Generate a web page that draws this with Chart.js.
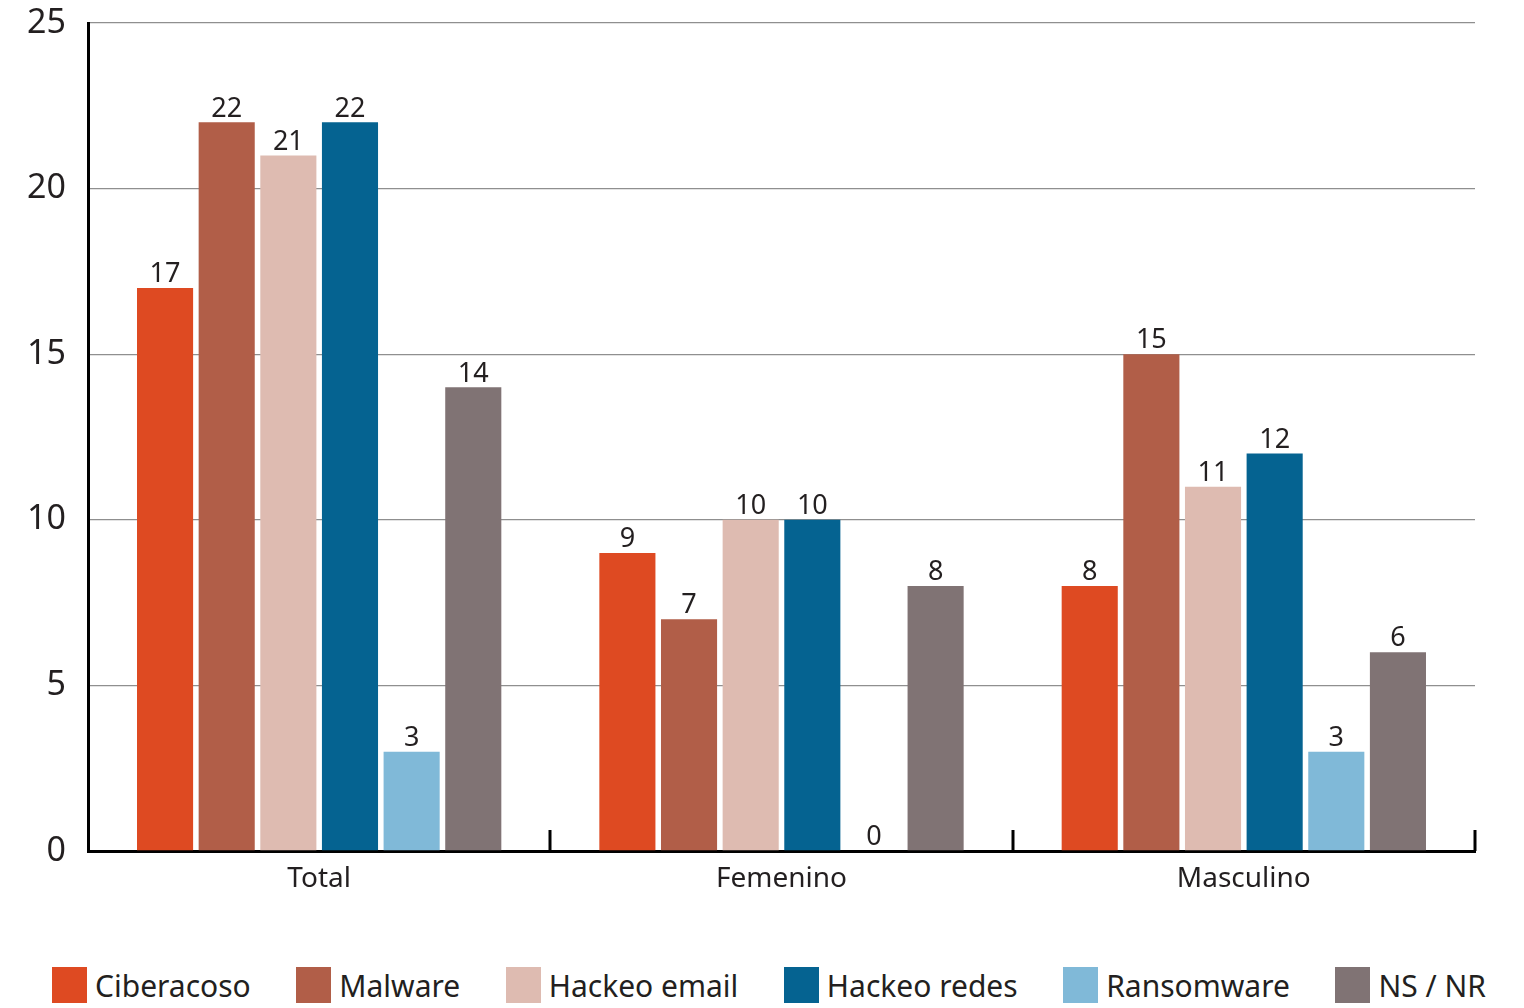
<!DOCTYPE html>
<html lang="es">
<head>
<meta charset="utf-8">
<title>Incidentes por sexo</title>
<script src="https://cdn.jsdelivr.net/npm/chart.js@4.4.1/dist/chart.umd.min.js"></script>
<style>
  html, body { margin: 0; padding: 0; background: #fff; }
  #wrap { position: relative; width: 1524px; height: 1008px; }
  #chart-box { position: absolute; left: 0; top: 0; width: 1524px; height: 940px; }
  #legend {
    position: absolute; left: 52px; right: 38px; top: 967px; height: 36px;
    display: flex; justify-content: space-between; align-items: center;
    font-family: "Noto Sans", sans-serif; font-size: 30px; color: #231f20;
  }
  #legend .item { display: flex; align-items: center; }
  #legend .swatch { width: 35px; height: 36px; margin-right: 8px; }
</style>
</head>
<body>
<div id="wrap">
  <div id="chart-box"><canvas id="incidentChart"></canvas></div>
  <div id="legend"></div>
</div>
<script>
// Categories and series
const groups = ['Total', 'Femenino', 'Masculino'];
const ciberacoso = [17, 9, 8];
const malware = [22, 7, 15];
const hackeoEmail = [21, 10, 11];
const hackeoRedes = [22, 10, 12];
const ransomware = [3, 0, 3];
const nsNr = [14, 8, 6];
const yTicks = [0, 5, 10, 15, 20, 25];

const seriesNames = ['Ciberacoso', 'Malware', 'Hackeo email', 'Hackeo redes', 'Ransomware', 'NS / NR'];
const seriesValues = [ciberacoso, malware, hackeoEmail, hackeoRedes, ransomware, nsNr];
const seriesColors = ['#de4a22', '#b15e48', '#debbb1', '#056391', '#80b9d8', '#807374'];

const FONT = '"Noto Sans", sans-serif';
const TEXT = '#231f20';

// Numbers printed above each bar
const valueLabels = {
    id: 'valueLabels',
    afterDatasetsDraw(chart) {
        const ctx = chart.ctx;
        ctx.save();
        ctx.font = '27px ' + FONT;
        ctx.fillStyle = TEXT;
        ctx.textAlign = 'center';
        ctx.textBaseline = 'bottom';
        chart.data.datasets.forEach((ds, i) => {
            chart.getDatasetMeta(i).data.forEach((bar, j) => {
                ctx.fillText(String(ds.data[j]), bar.x, bar.y);
            });
        });
        ctx.restore();
    }
};

// Short upward ticks between the groups on the base line
const groupTicks = {
    id: 'groupTicks',
    afterDraw(chart) {
        const x = chart.scales.x;
        const ctx = chart.ctx;
        ctx.save();
        ctx.strokeStyle = '#000';
        ctx.lineWidth = 3;
        for (let i = 0; i < groups.length; i++) {
            const px = Math.round(x.getPixelForValue(i + 0.5));
            ctx.beginPath();
            ctx.moveTo(px, x.top);
            ctx.lineTo(px, x.top - 21);
            ctx.stroke();
        }
        ctx.restore();
    }
};

const ctx = document.getElementById('incidentChart').getContext('2d');
const chart = new Chart(ctx, {
    type: 'bar',
    data: {
        labels: groups,
        datasets: seriesNames.map((name, i) => ({
            label: name,
            data: seriesValues[i],
            backgroundColor: seriesColors[i],
            borderWidth: 0,
            categoryPercentage: 0.8,
            barPercentage: 0.91
        }))
    },
    options: {
        responsive: true,
        maintainAspectRatio: false,
        animation: false,
        layout: { padding: { top: 23, right: 49, left: 0, bottom: 0 } },
        scales: {
            x: {
                grid: { display: false },
                border: { display: true, color: '#000', width: 3 },
                ticks: { color: TEXT, font: { family: FONT, size: 28 }, padding: 3 },
                afterFit(scale) { scale.height = 89; }
            },
            y: {
                min: 0,
                max: 25,
                afterBuildTicks(scale) { scale.ticks = yTicks.map(v => ({ value: v })); },
                grid: { color: '#8f8f8f', lineWidth: 1.3, drawTicks: false },
                border: { display: true, color: '#000', width: 3 },
                ticks: { color: TEXT, font: { family: FONT, size: 34 }, padding: 22 },
                afterFit(scale) {
                    scale.width = 88;
                    scale.paddingTop = 0;
                    scale.paddingBottom = 0;
                }
            }
        },
        plugins: {
            legend: { display: false },
            tooltip: { enabled: false }
        }
    },
    plugins: [valueLabels, groupTicks]
});

// Legend row built from the chart's datasets
const legendEl = document.getElementById('legend');
chart.data.datasets.forEach(ds => {
    const item = document.createElement('div');
    item.className = 'item';
    const sw = document.createElement('span');
    sw.className = 'swatch';
    sw.style.background = ds.backgroundColor;
    const label = document.createElement('span');
    label.textContent = ds.label;
    item.appendChild(sw);
    item.appendChild(label);
    legendEl.appendChild(item);
});
</script>
</body>
</html>
